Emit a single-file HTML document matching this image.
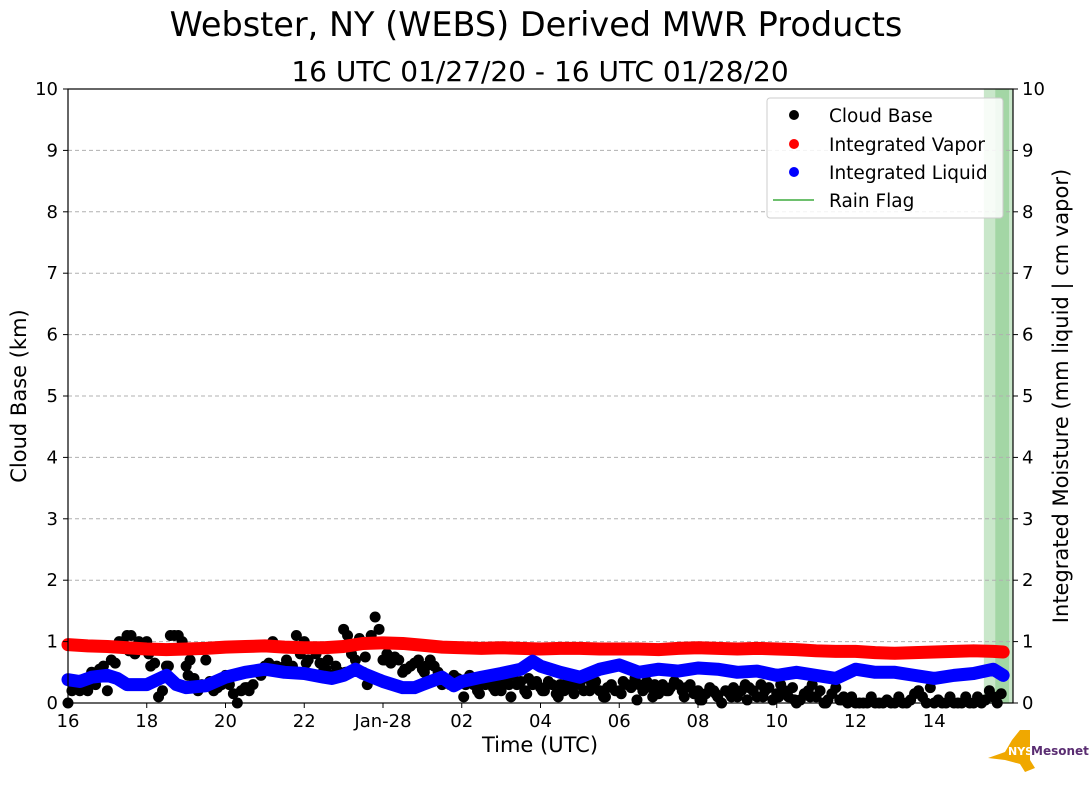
<!DOCTYPE html>
<html><head><meta charset="utf-8"><style>
body{margin:0;background:#fff;font-family:"Liberation Sans","DejaVu Sans",sans-serif;}
svg text{font-family:"DejaVu Sans","Liberation Sans",sans-serif;}
</style></head><body>
<svg id="chart" width="1089" height="804" viewBox="0 0 1089 804" xmlns="http://www.w3.org/2000/svg">
<rect width="1089" height="804" fill="#fff"/>
<text x="536" y="36" font-size="33.5" text-anchor="middle">Webster, NY (WEBS) Derived MWR Products</text>
<text x="540" y="81" font-size="28" text-anchor="middle">16 UTC 01/27/20 - 16 UTC 01/28/20</text>
<g id="rain"></g>
<g id="grid"></g>
<g id="marks"></g>
<rect x="68" y="89" width="945" height="614" fill="none" stroke="#000" stroke-width="1.2"/>
<g id="axes"></g>
<text x="540" y="752" font-size="21" text-anchor="middle">Time (UTC)</text>
<text transform="translate(26,396) rotate(-90)" font-size="21" text-anchor="middle">Cloud Base (km)</text>
<text transform="translate(1068,396) rotate(-90)" font-size="21" text-anchor="middle">Integrated Moisture (mm liquid | cm vapor)</text>
<g>
<rect x="767" y="98" width="236" height="120" rx="3" fill="#fff" fill-opacity="0.85" stroke="#ccc"/>
<circle cx="794" cy="115" r="5" fill="#000"/><text x="829" y="122" font-size="18.5">Cloud Base</text>
<circle cx="794" cy="144" r="5" fill="red"/><text x="829" y="151" font-size="18.5">Integrated Vapor</text>
<circle cx="794" cy="172" r="5" fill="blue"/><text x="829" y="179" font-size="18.5">Integrated Liquid</text>
<line x1="773" y1="200" x2="814" y2="200" stroke="#6ec06e" stroke-width="2"/><text x="829" y="207" font-size="18.5">Rain Flag</text>
</g>
<g>
<path d="M988 758 L1005 752 L1012 740 L1020 730 L1030 730 L1030 760 L1035 768 L1025 772 L1020 764 L1005 760 Z" fill="#f0a800"/>
<text x="1008" y="755" font-size="11" font-weight="bold" fill="#fff">NYS</text>
<text x="1031" y="755" font-size="12" font-weight="bold" fill="#5a2d72">Mesonet</text>
</g>
</svg>
<script>
const vapT=[0,0.5,1,1.5,2,2.5,3,3.5,4,4.5,5,5.5,6,6.5,7,7.5,8,8.5,9,9.5,10,10.5,11,11.5,12,12.5,13,13.5,14,14.5,15,15.5,16,16.5,17,17.5,18,18.5,19,19.5,20,20.5,21,21.5,22,22.5,23,23.5,23.75];
const vapV=[0.95,0.93,0.92,0.9,0.88,0.87,0.88,0.89,0.91,0.92,0.93,0.91,0.9,0.9,0.92,0.97,0.98,0.97,0.94,0.91,0.9,0.89,0.9,0.89,0.88,0.89,0.89,0.88,0.88,0.88,0.87,0.89,0.9,0.89,0.88,0.89,0.88,0.87,0.85,0.84,0.84,0.82,0.81,0.82,0.83,0.84,0.85,0.84,0.83];
const liqT=[0,0.3,0.6,1,1.25,1.5,2,2.5,2.75,3,3.5,4,4.5,5,5.5,6,6.5,6.7,7,7.3,7.5,8,8.5,8.8,9,9.5,9.8,10,10.5,11,11.5,11.8,12,12.5,13,13.5,14,14.5,15,15.5,16,16.5,17,17.5,18,18.5,19,19.5,20,20.5,21,21.5,22,22.5,23,23.5,23.75];
const liqV=[0.38,0.35,0.42,0.45,0.4,0.3,0.3,0.45,0.3,0.25,0.28,0.42,0.5,0.55,0.5,0.48,0.42,0.4,0.45,0.55,0.48,0.35,0.25,0.25,0.3,0.42,0.28,0.35,0.42,0.48,0.55,0.68,0.6,0.5,0.42,0.55,0.62,0.5,0.55,0.52,0.57,0.55,0.5,0.52,0.45,0.5,0.45,0.4,0.55,0.5,0.5,0.45,0.4,0.45,0.48,0.55,0.45];
const cbT=[
0.0,0.1,0.2,0.3,0.4,0.5,0.6,0.7,0.8,0.9,
1.0,1.1,1.2,1.3,1.4,1.5,1.6,1.7,1.8,1.9,
2.0,2.1,2.2,2.3,2.4,2.5,2.6,2.7,2.8,2.9,
3.0,3.1,3.2,3.3,3.4,3.5,3.6,3.7,3.8,3.9,
4.0,4.1,4.2,4.3,4.4,4.5,4.6,4.7,4.8,4.9,
5.0,5.1,5.2,5.3,5.4,5.5,5.6,5.7,5.8,5.9,
6.0,6.1,6.2,6.3,6.4,6.5,6.6,6.7,6.8,6.9,
7.0,7.1,7.2,7.3,7.4,7.5,7.6,7.7,7.8,7.9,
8.0,8.1,8.2,8.3,8.4,8.5,8.6,8.7,8.8,8.9,
9.0,9.1,9.2,9.3,9.4,9.5,9.6,9.7,9.8,9.9,
10.0,10.1,10.2,10.3,10.4,10.5,10.6,10.7,10.8,10.9,
11.0,11.1,11.2,11.3,11.4,11.5,11.6,11.7,11.8,11.9,
12.0,12.1,12.2,12.3,12.4,12.5,12.6,12.7,12.8,12.9,
13.0,13.1,13.2,13.3,13.4,13.5,13.6,13.7,13.8,13.9,
14.0,14.1,14.2,14.3,14.4,14.5,14.6,14.7,14.8,14.9,
15.0,15.1,15.2,15.3,15.4,15.5,15.6,15.7,15.8,15.9,
16.0,16.1,16.2,16.3,16.4,16.5,16.6,16.7,16.8,16.9,
17.0,17.1,17.2,17.3,17.4,17.5,17.6,17.7,17.8,17.9,
18.0,18.1,18.2,18.3,18.4,18.5,18.6,18.7,18.8,18.9,
19.0,19.1,19.2,19.3,19.4,19.5,19.6,19.7,19.8,19.9,
20.0,20.1,20.2,20.3,20.4,20.5,20.6,20.7,20.8,20.9,
21.0,21.1,21.2,21.3,21.4,21.5,21.6,21.7,21.8,21.9,
22.0,22.1,22.2,22.3,22.4,22.5,22.6,22.7,22.8,22.9,
23.0,23.1,23.2,23.3,23.4,23.5,23.6,23.7,
10.05,10.45,10.85,11.25,11.65,12.05,12.45,12.85,13.25,13.65,
14.05,14.45,14.85,15.25,15.65,16.05,16.45,16.85,17.25,17.65,
18.05,18.45,18.85,19.25,19.65,
0.55,1.05,1.55,2.05,2.55,3.05,3.55,4.05,4.55,5.05,
5.55,6.05,6.55,7.05,7.55,8.05,8.55,9.05,9.55];
const cbV=[
0.0,0.2,0.25,0.2,0.3,0.2,0.5,0.3,0.55,0.6,
0.2,0.7,0.65,1.0,1.0,1.1,1.1,0.8,1.0,0.9,
1.0,0.6,0.65,0.1,0.2,0.6,1.1,1.1,1.1,1.0,
0.6,0.7,0.4,0.2,0.3,0.7,0.35,0.2,0.25,0.3,
0.45,0.3,0.15,0.0,0.2,0.25,0.2,0.3,0.5,0.45,
0.6,0.65,1.0,0.6,0.55,0.6,0.5,0.6,1.1,0.8,
1.0,0.7,0.9,0.8,0.65,0.55,0.7,0.45,0.6,0.5,
1.2,1.1,0.8,0.7,1.05,0.5,0.3,1.1,1.4,1.2,
0.7,0.8,0.65,0.75,0.7,0.5,0.55,0.6,0.65,0.7,
0.55,0.6,0.7,0.6,0.5,0.3,0.35,0.3,0.45,0.4,
0.35,0.3,0.45,0.3,0.2,0.35,0.3,0.4,0.25,0.3,
0.2,0.35,0.3,0.45,0.3,0.35,0.2,0.4,0.3,0.35,
0.25,0.2,0.35,0.3,0.15,0.3,0.2,0.35,0.25,0.3,
0.3,0.2,0.4,0.3,0.35,0.2,0.1,0.25,0.3,0.2,
0.2,0.35,0.3,0.25,0.4,0.3,0.2,0.35,0.25,0.3,
0.15,0.3,0.2,0.25,0.35,0.3,0.2,0.25,0.3,0.15,
0.2,0.05,0.15,0.25,0.2,0.1,0.0,0.2,0.15,0.25,
0.1,0.2,0.3,0.25,0.2,0.1,0.3,0.2,0.25,0.05,
0.15,0.3,0.2,0.1,0.25,0.0,0.05,0.15,0.2,0.3,
0.1,0.2,0.0,0.05,0.15,0.25,0.05,0.1,0.0,0.1,
0.0,0.0,0.0,0.0,0.1,0.0,0.0,0.0,0.05,0.0,
0.0,0.1,0.0,0.0,0.05,0.15,0.2,0.1,0.0,0.25,
0.0,0.05,0.0,0.0,0.1,0.0,0.0,0.0,0.1,0.0,
0.0,0.1,0.0,0.05,0.2,0.1,0.0,0.15,
0.1,0.15,0.2,0.1,0.15,0.2,0.1,0.15,0.2,0.1,
0.15,0.05,0.1,0.2,0.1,0.05,0.15,0.1,0.05,0.1,
0.1,0.05,0.1,0.0,0.05,
0.35,0.45,0.85,0.8,0.6,0.45,0.3,0.35,0.25,0.55,
0.7,0.65,0.55,0.5,0.75,0.7,0.55,0.5,0.35];
const xTicks=[0,2,4,6,8,10,12,14,16,18,20,22];
const xLabels=["16","18","20","22","Jan-28","02","04","06","08","10","12","14"];
const yTicks=[0,1,2,3,4,5,6,7,8,9,10];
const rainStart=[23.26,23.55];
const rainEnd=[24,23.9];

const NS="http://www.w3.org/2000/svg";
const X=h=>68+h*945/24;
const Y=v=>703-v*61.4;
function mk(tag,attrs,parent){const e=document.createElementNS(NS,tag);for(const k in attrs)e.setAttribute(k,attrs[k]);parent.appendChild(e);return e;}
const grid=document.getElementById('grid'),axes=document.getElementById('axes'),marks=document.getElementById('marks'),rain=document.getElementById('rain');
rainStart.forEach((s,i)=>{const r=mk('rect',{x:X(s),y:89,width:X(rainEnd[i])-X(s),height:614,fill:'#4caf50','fill-opacity':0.3},rain);

});
yTicks.forEach(v=>{
 if(v>0&&v<10){const g=mk('line',{x1:68,x2:1013,y1:Y(v),y2:Y(v),stroke:'#b0b0b0','stroke-dasharray':'4,3'},grid);
 
 }
 mk('line',{x1:63,x2:68,y1:Y(v),y2:Y(v),stroke:'#000'},axes);
 mk('line',{x1:1013,x2:1018,y1:Y(v),y2:Y(v),stroke:'#000'},axes);
 const t=mk('text',{x:58,y:Y(v)+6,'font-size':18,'text-anchor':'end'},axes);t.textContent=v;
 
 
 const t2=mk('text',{x:1022,y:Y(v)+6,'font-size':18},axes);t2.textContent=v;
 
 
});
xTicks.forEach((h,i)=>{mk('line',{x1:X(h),x2:X(h),y1:703,y2:708,stroke:'#000'},axes);
 const t=mk('text',{x:X(h),y:727,'font-size':18,'text-anchor':'middle'},axes);t.textContent=xLabels[i];
 
 });
function band(T,V,color,name){
 const pts=T.map((t,i)=>X(t)+','+Y(V[i])).join(' ');
 const p=mk('polyline',{points:pts,fill:'none',stroke:color,'stroke-width':13,'stroke-linejoin':'round','stroke-linecap':'round'},marks);
 
 
}
const n=Math.min(cbT.length,cbV.length);
for(let i=0;i<n;i++){const c=mk('circle',{cx:X(cbT[i]),cy:Y(cbV[i]),r:5.5,fill:'#000'},marks);
 
 }
band(vapT,vapV,'#ff0000','integrated-vapor-series');
band(liqT,liqV,'#0000ff','integrated-liquid-series');
</script>
</body></html>
